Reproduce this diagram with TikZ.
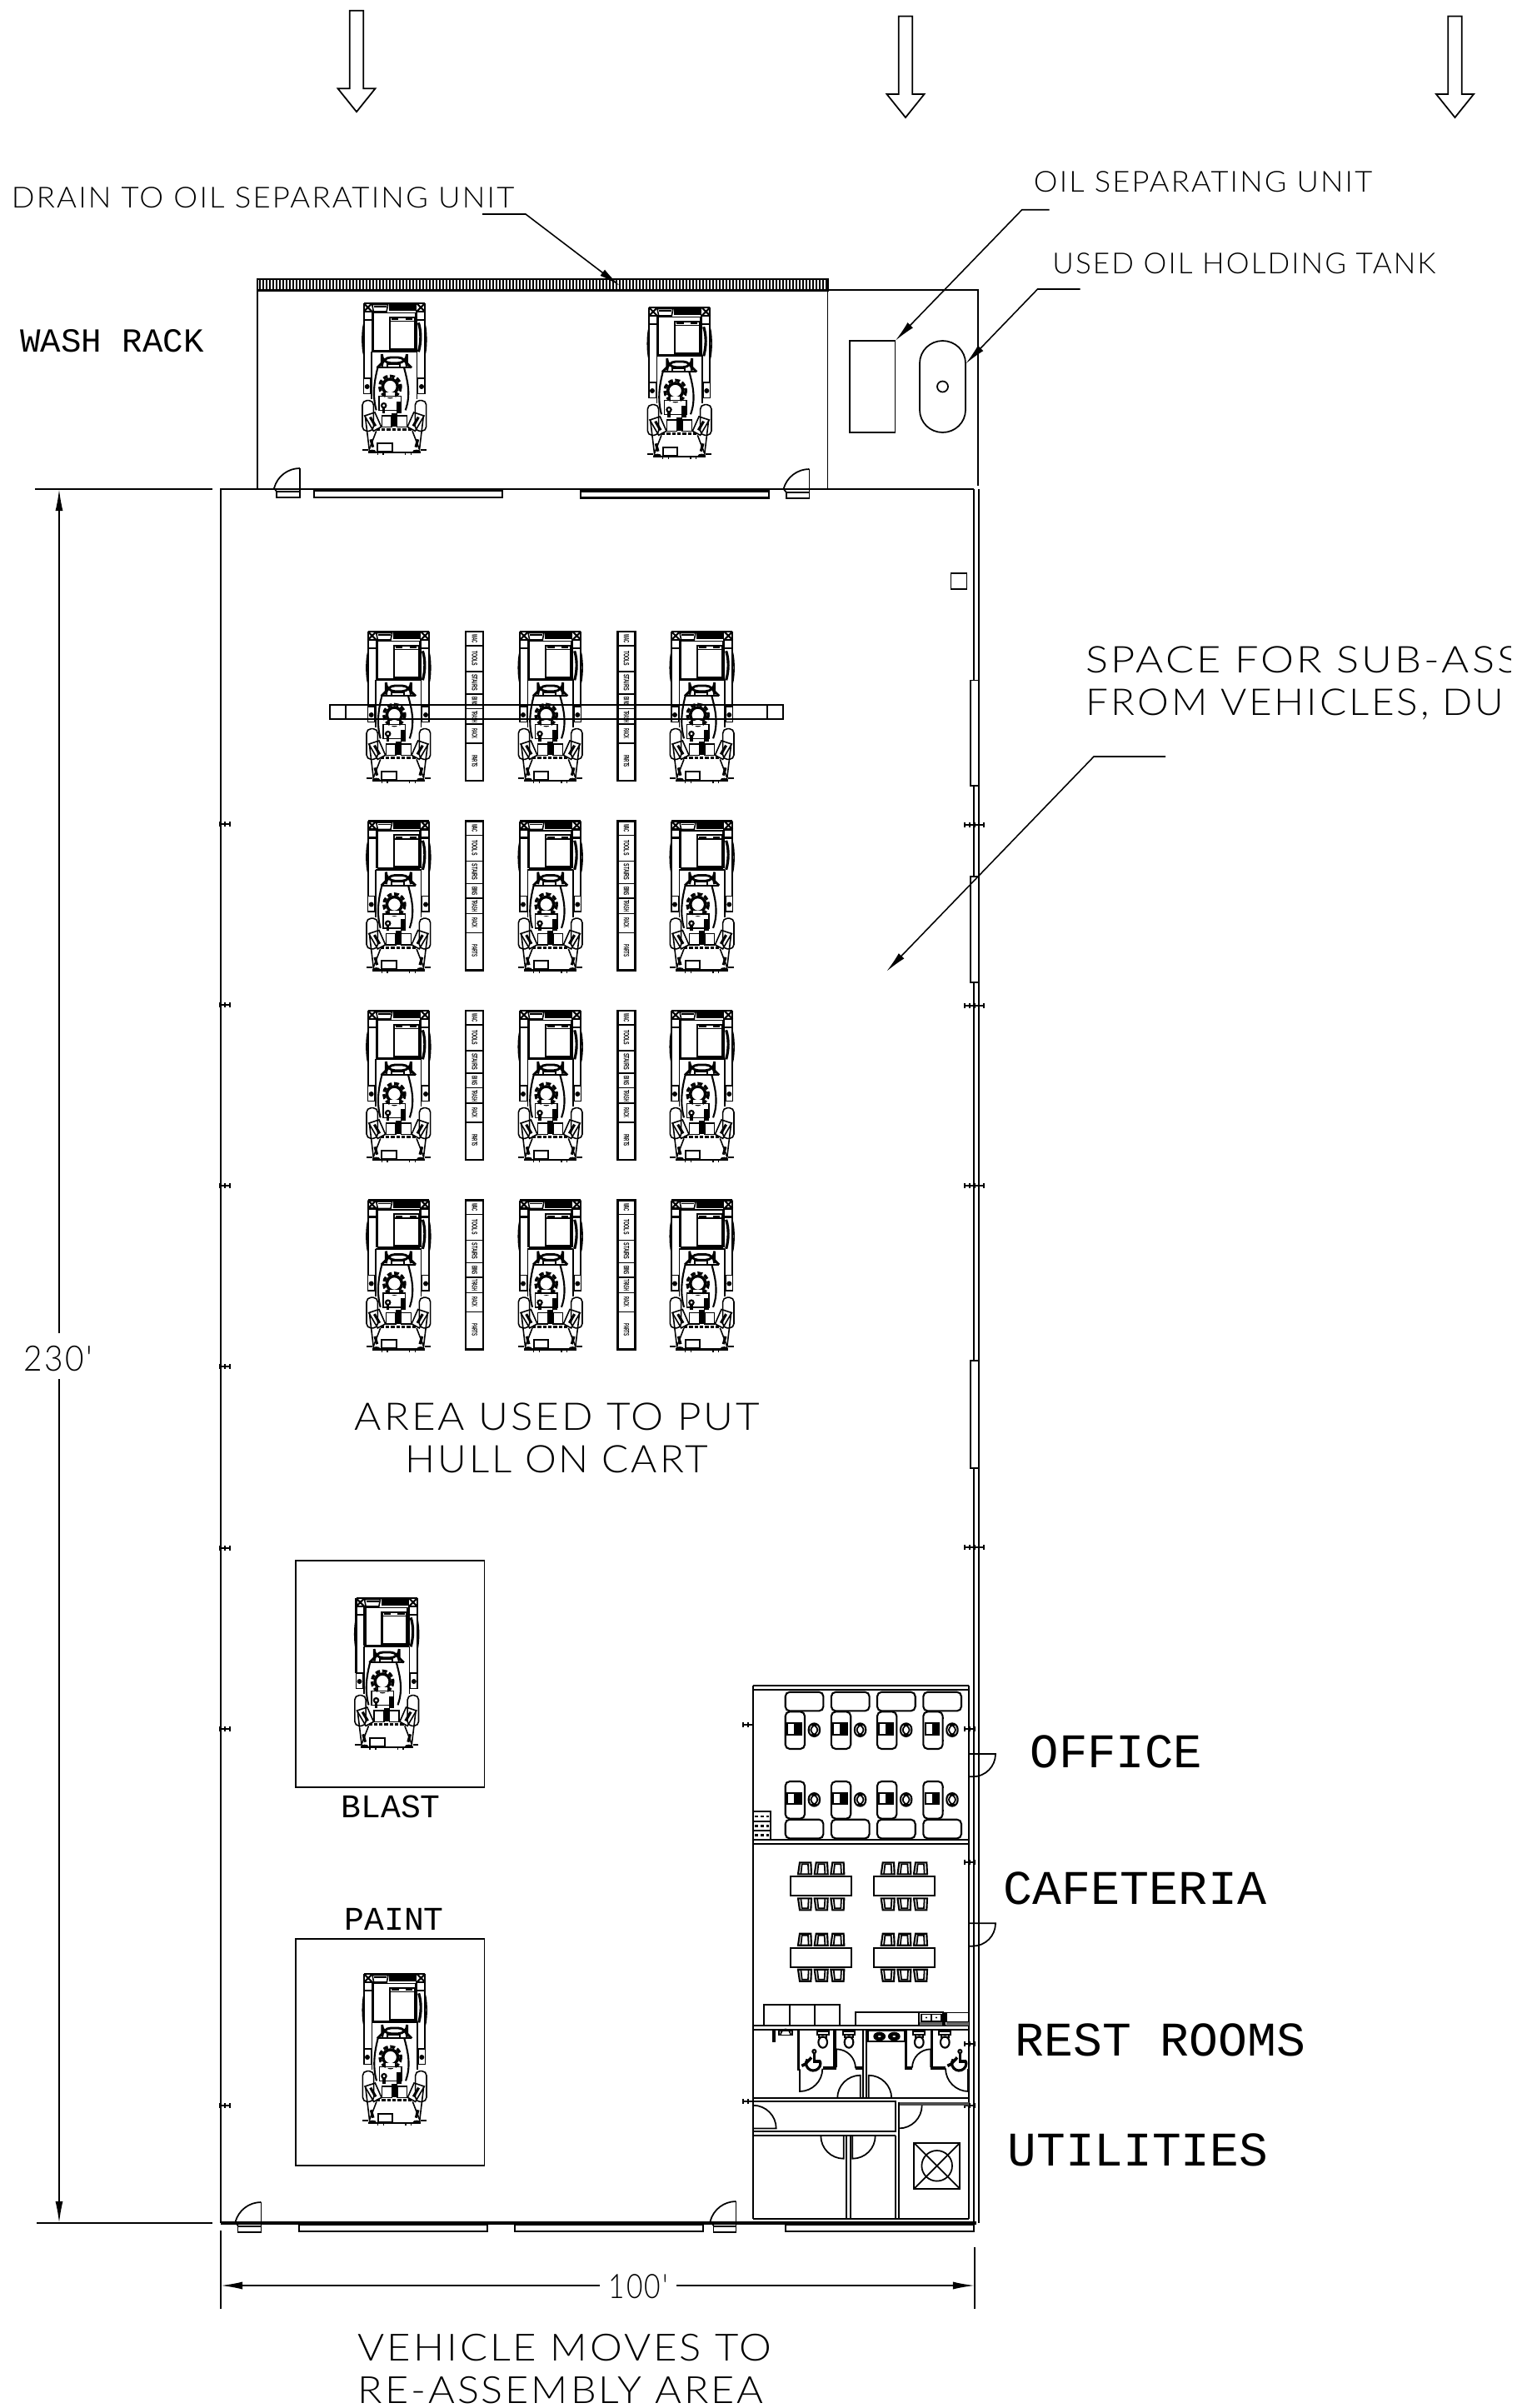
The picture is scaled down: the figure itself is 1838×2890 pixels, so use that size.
\documentclass[tikz,border=0pt]{standalone}
\usepackage{graphicx}
\usepackage{fontspec}
\setmainfont{Liberation Sans}
\newfontfamily\cadfont{Lato Light}[LetterSpace=6]
\newfontfamily\stampfont{Liberation Mono}
\usetikzlibrary{arrows.meta}

% width in cm, font size in pt, text
\newcommand{\cadtext}[3]{\resizebox{#1cm}{\height}{\fontsize{#2}{#2}\selectfont #3}}

% one half of the vehicle, mirrored for the other side
\newcommand{\vehside}{
  \draw ( 0, 75 ) .. controls ( -7, 100 ) and ( -7, 160 ) .. ( 0, 185 );
  \draw[thick] ( 0, 0 ) -- ( 0, 270 );
  \draw[thick] ( 0, 0 ) -- ( 30, 30 ) ( 0, 30 ) -- ( 30, 0 );
  \draw[thick] ( 0, 30 ) -- ( 30, 30 ) -- ( 30, 170 );
  \draw[thick] ( 0, 60 ) -- ( 30, 60 );
  \draw ( 28, 175 ) -- ( 28, 345 );
  \draw ( 0, 270 ) rectangle ( 25, 325 );
  \fill ( 12, 300 ) circle ( 9 );
  \draw[rounded corners=1.5pt] ( -5, 350 ) rectangle ( 35, 460 );
  \draw ( 3, 405 ) -- ( 40, 393 ) -- ( 63, 445 ) -- ( 35, 460 ) -- cycle;
  \draw[line width=0.9pt] ( 23, 410 ) -- ( 42, 442 );
  \draw ( 5, 405 ) -- ( 20, 530 );
  \draw ( 45, 460 ) -- ( 20, 525 );
  \draw[line width=0.9pt] ( 25, 490 ) -- ( 33, 518 );
  \draw[thick] ( -5, 527 ) -- ( 15, 527 );
  \fill ( 30, 533 ) ellipse ( 14 and 6 );
  \draw ( 50, 537 ) -- ( 50, 547 ) ( 70, 537 ) -- ( 70, 547 );
}

\tikzset{
  thick/.style={line width=0.6pt},
  wall/.style={line width=0.65pt},
  leader/.style={line width=0.45pt, -{Latex[length=0.26cm, width=0.09cm]}},
  plainline/.style={line width=0.45pt},
  note/.style={anchor=base west, inner sep=0pt, font=\cadfont},
  stamp/.style={anchor=base west, inner sep=0pt, font=\stampfont},
  vehicle/.pic={
    \begin{scope}[line width=0.45pt]
    \vehside
    \begin{scope}[shift={( 220, 0 )}, xscale=-1]
      \vehside
    \end{scope}
    \draw[thick] ( 0, 0 ) -- ( 220, 0 );
    \fill ( 90, 3 ) rectangle ( 190, 28 );
    \draw[fill=white] ( 30, 5 ) -- ( 87, 5 ) -- ( 82, 30 ) -- ( 35, 30 ) -- cycle;
    \draw ( 36, 12 ) -- ( 82, 12 );
    \draw ( 35, 35 ) rectangle ( 185, 170 );
    \draw[thick] ( 93, 50 ) rectangle ( 183, 165 );
    \draw ( 93, 65 ) -- ( 183, 65 );
    \draw[thick] ( 100, 58 ) -- ( 125, 58 ) ( 150, 58 ) -- ( 175, 58 );
    \draw[line width=0.9pt] ( 197, 70 ) .. controls ( 207, 100 ) and ( 207, 140 ) .. ( 197, 175 );
    \draw[thick] ( 28, 175 ) -- ( 192, 175 );
    % Hatch and beams
    \draw[line width=0.8pt, rounded corners=3pt] ( 65, 195 ) rectangle ( 155, 215 );
    \draw[line width=0.8pt] ( 48, 232 ) -- ( 65, 215 ) ( 172, 232 ) -- ( 155, 215 );
    \draw[thick] ( 48, 232 ) -- ( 172, 232 );
    \draw[fill=white, thick] ( 85, 218 ) rectangle ( 130, 232 );
    \draw[thick] ( 50, 232 ) .. controls ( 38, 280 ) and ( 30, 330 ) .. ( 45, 385 );
    \draw[thick] ( 145, 232 ) .. controls ( 158, 280 ) and ( 170, 330 ) .. ( 150, 385 );
    % Turret ring
    \draw[line width=1pt, dash pattern=on 1.6pt off 0.8pt] ( 95, 300 ) circle ( 38 );
    \draw[line width=1pt] ( 95, 300 ) circle ( 27 );
    \draw[fill=white, draw=none] ( 78, 322 ) rectangle ( 112, 340 );
    % Lower deck
    \draw ( 55, 335 ) rectangle ( 135, 385 );
    \draw[fill=black] ( 120, 355 ) rectangle ( 133, 393 );
    \draw[thick] ( 72, 368 ) circle ( 8 );
    \draw[line width=0.9pt] ( 72, 376 ) -- ( 72, 395 );
    \draw ( 65, 405 ) rectangle ( 100, 445 ) ( 120, 405 ) rectangle ( 155, 445 );
    \fill ( 100, 395 ) rectangle ( 120, 445 );
    \draw[line width=0.9pt, dash pattern=on 1.2pt off 0.6pt] ( 45, 455 ) -- ( 175, 455 );
    % Front
    \draw[thick] ( 15, 537 ) -- ( 205, 537 );
    \draw[thick] ( 50, 503 ) rectangle ( 103, 533 );
    \end{scope}
  },
  shelf/.pic={
    \draw[thick] ( 0, 0 ) rectangle ( 21, 179 );
    \foreach \sy in { 17, 48, 75, 92.5, 111, 134 } {
      \draw ( 0, \sy ) -- ( 21, \sy );
    }
    \foreach \sy/\swidth/\slabel in { 8.5/0.1/WAC, 32/0.18/TOOLS, 61/0.2/STAIRS, 84/0.11/BINS, 102/0.14/TRASH, 122/0.12/RACK, 156/0.16/PARTS } {
      \node[rotate=-90, inner sep=0pt] (\slabel) at ( 10.5, \sy ) {\cadtext{\swidth}{2.6}{\bfseries\slabel}};
    }
  },
  rollup/.pic={
    \draw[thick] ( 0, 0 ) rectangle ( 226, 8 );
  },
  coltick/.pic={
    \draw[line width=0.6pt] ( 0, 0 ) -- ( 12, 0 );
    \draw[line width=0.8pt] ( 0, -3 ) -- ++( 0, 6 ) ( 6, -3 ) -- ++( 0, 6 ) ( 12, -3 ) -- ++( 0, 6 );
  },
  desk/.pic={
    \draw[thick, rounded corners=1.5pt] ( 0, 0 ) rectangle ( 70, 134 );
    \draw ( 70, 22 ) -- ( 73, 22 ) ( 70, 105 ) -- ( 73, 105 );
    \draw[thick] ( 7, 42 ) rectangle ( 34, 82 );
    \fill ( 34, 38 ) rectangle ( 60, 85 );
    \draw[thick, rounded corners=2pt] ( 84, 42 ) rectangle ( 124, 89 );
    \draw[rounded corners=2pt, fill=white] ( 92, 47 ) rectangle ( 116, 84 );
  },
  chair/.pic={
    \draw[thick] ( -24, 0 ) -- ( -18, -42 ) -- ( 22, -42 ) -- ( 24, 0 ) -- cycle;
    \draw ( -14, 0 ) -- ( -10, -36 ) -- ( 12, -36 ) -- ( 14, 0 );
  },
  toilet/.pic={
    \draw[thick] ( -21, 0 ) rectangle ( 21, 12 );
    \draw ( -14, 12 ) rectangle ( 14, 20 );
    \draw[thick] ( 0, 38 ) ellipse ( 16 and 20 );
  },
  wheelchair/.pic={
    \draw[line width=0.9pt] ( 26, -10 ) arc[start angle=-20, end angle=215, radius=26];
    \draw[thick] ( 5, -44 ) circle ( 6 );
    \draw[line width=1pt] ( 5, -38 ) -- ( 5, -8 ) -- ( 28, -8 );
    \draw[line width=1pt] ( -5, -22 ) -- ( -28, 2 ) -- ( -40, 8 );
  },
  topdown/.pic={
    \draw[fill=white] ( -8.3, 0 ) -- ( -8.3, 93.5 ) -- ( -22.5, 93.5 ) -- ( 0, 121.5 ) -- ( 22.5, 93.5 ) -- ( 8.3, 93.5 ) -- ( 8.3, 0 ) -- cycle;
  }
}

\begin{document}
\begin{tikzpicture}[x=0.01cm, y=-0.01cm, line width=0.5pt]
\useasboundingbox ( 0, 0 ) rectangle ( 1838, 2890 );

% Arrows along the top
\pic at ( 428, 12.7 ) {topdown};
\pic at ( 1087, 19.5 ) {topdown};
\pic at ( 1746.5, 19.5 ) {topdown};

% Wash rack
\draw ( 309, 348 ) -- ( 309, 587 );
\draw ( 993.6, 348 ) -- ( 993.6, 587 );
\draw ( 993.6, 348 ) -- ( 1174, 348 ) -- ( 1174, 583 );
\draw[thick] ( 309, 334.7 ) rectangle ( 993.6, 348.5 );
\foreach \gx in { 312, 316, ..., 992 } {
  \draw[line width=0.35pt] ( \gx, 334.7 ) -- ++( 0, 13.8 );
}
\draw ( 1020, 409 ) rectangle ( 1074.5, 519 );
\draw ( 1104, 436 ) arc[start angle=180, end angle=360, x radius=27.5, y radius=27] -- ( 1159, 492 ) arc[start angle=0, end angle=180, x radius=27.5, y radius=27] -- cycle;
\draw ( 1131.5, 464 ) circle ( 6.5 );
\pic[scale=0.3333] at ( 436.7, 364 ) {vehicle};
\pic[scale=0.3333] at ( 779, 369 ) {vehicle};

% Wash rack doors
\draw ( 360, 562 ) arc[start angle=-90, end angle=-165, radius=32] -- ( 332, 590 );
\draw ( 360, 562 ) -- ( 360, 597 ) -- ( 332, 597 ) -- ( 332, 590 ) -- ( 360, 590 );
\pic at ( 377, 589 ) {rollup};
\pic at ( 697, 589.5 ) {rollup};
\draw ( 971.5, 563 ) arc[start angle=-90, end angle=-165, radius=32] -- ( 944, 591 );
\draw ( 971.5, 563 ) -- ( 971.5, 598 ) -- ( 944, 598 ) -- ( 944, 591 ) -- ( 971.5, 591 );

% Building
\draw[wall] ( 1169, 587 ) -- ( 265, 587 ) -- ( 265, 2668 );
\draw[line width=1pt] ( 265, 2668 ) -- ( 1172, 2668 );
\draw[plainline] ( 1169, 587 ) -- ( 1169, 2668 );
\draw[plainline] ( 1175, 587 ) -- ( 1175, 2668 );
\draw ( 1141.5, 688 ) rectangle ( 1160.5, 707 );

% Windows
\draw[fill=white] ( 1165, 816.5 ) rectangle ( 1174.6, 943 );
\draw[fill=white] ( 1165, 1052 ) rectangle ( 1174.6, 1179 );
\draw[fill=white] ( 1165, 1633 ) rectangle ( 1174.6, 1762 );

% Columns
\foreach \cy in { 989, 1206, 1423, 1640, 1858, 2075, 2527 } {
  \pic at ( 264, \cy ) {coltick};
}
\foreach \cy in { 990, 1207, 1423, 1857 } {
  \pic at ( 1158, \cy ) {coltick};
  \pic at ( 1169, \cy ) {coltick};
}
\foreach \cy in { 2075, 2235, 2453, 2527 } {
  \pic at ( 1158, \cy ) {coltick};
}
\pic at ( 892, 2070 ) {coltick};
\pic at ( 892, 2522 ) {coltick};

% Assembly rows
\foreach \vy in { 758, 985.5, 1213, 1440.5 } {
  \foreach \vx in { 441.7, 624, 806 } {
    \pic[scale=0.3333] at ( \vx, \vy ) {vehicle};
  }
  \pic at ( 559.3, \vy ) {shelf};
  \pic at ( 741.5, \vy ) {shelf};
}
\draw ( 396, 845.7 ) rectangle ( 940, 863.3 );
\draw ( 415, 845.7 ) -- ++( 0, 17.6 );
\draw ( 921, 845.7 ) -- ++( 0, 17.6 );

% Blast and paint
\draw ( 354.7, 1873 ) rectangle ( 581.5, 2145 );
\draw ( 354.7, 2327 ) rectangle ( 581.5, 2599 );
\pic[scale=0.3333] at ( 427.5, 1918 ) {vehicle};
\pic[scale=0.3333] at ( 437, 2369 ) {vehicle};

% Office block
\draw ( 904, 2023.3 ) -- ( 1163.3, 2023.3 );
\draw ( 904, 2028 ) -- ( 1163.3, 2028 );
\draw ( 904, 2023.3 ) -- ( 904, 2662.7 );
\draw ( 1163.3, 2023.3 ) -- ( 1163.3, 2662.7 );
\draw ( 904, 2662.7 ) -- ( 1163.3, 2662.7 );
\draw ( 904, 2208.3 ) -- ( 1163.3, 2208.3 );
\draw ( 904, 2213.3 ) -- ( 1163.3, 2213.3 );
\draw ( 904, 2430.7 ) -- ( 1163.3, 2430.7 );
\draw ( 904, 2436 ) -- ( 1163.3, 2436 );

% Office desks
\foreach \dx in { 942.7, 997.9, 1053, 1108.3 } {
  \pic[scale=0.3333] at ( \dx, 2054.3 ) {desk};
  \pic[scale=0.3333] at ( \dx, 2138 ) {desk};
  \draw[thick, rounded corners=1.5pt] ( \dx, 2030.7 ) rectangle ++( 45.7, 22.7 );
  \draw[thick, rounded corners=1.5pt] ( \dx, 2183.7 ) rectangle ++( 45.7, 22.7 );
}
\draw ( 904, 2174 ) -- ( 924.7, 2174 ) -- ( 924.7, 2208.3 );
\foreach \sy in { 2186, 2197 } {
  \draw ( 904, \sy ) -- ( 924.7, \sy );
}
\foreach \sy in { 2180, 2191.5, 2202.5 } {
  \draw[line width=0.8pt, dash pattern=on 1.2pt off 0.8pt] ( 906, \sy ) -- ( 923, \sy );
}

% Office and cafeteria doors
\draw ( 1163.3, 2105 ) -- ( 1195, 2105 ) arc[start angle=0, end angle=90, radius=27.3] -- ( 1163.3, 2132.3 );
\draw ( 1163.3, 2308.3 ) -- ( 1195, 2308.3 ) arc[start angle=0, end angle=90, radius=27.3] -- ( 1163.3, 2335.6 );

% Cafeteria tables
\foreach \tx in { 949, 1048.7 } {
  \foreach \ty in { 2252.3, 2337.7 } {
    \draw[thick] ( \tx, \ty ) rectangle ++( 73, 23 );
    \foreach \cx in { 17, 36.7, 56.3 } {
      \pic[scale=0.3333] at ( \tx + \cx, \ty - 3 ) {chair};
      \pic[scale=0.3333, yscale=-1] at ( \tx + \cx, \ty + 26 ) {chair};
    }
  }
}

% Kitchen counter
\draw ( 917.3, 2430.7 ) -- ( 917.3, 2406 ) -- ( 1008.3, 2406 ) -- ( 1008.3, 2430.7 );
\draw ( 947.7, 2406 ) -- ++( 0, 24.7 );
\draw ( 978, 2406 ) -- ++( 0, 24.7 );
\draw ( 1026.7, 2430.7 ) -- ( 1026.7, 2415 ) -- ( 1131.7, 2415 ) -- ( 1131.7, 2430.7 );
\draw ( 1103.3, 2415 ) -- ++( 0, 15.7 );
\draw ( 1106, 2417.5 ) rectangle ( 1118, 2426 );
\draw ( 1118.5, 2417.5 ) rectangle ( 1130, 2426 );
\fill ( 1112, 2421.5 ) circle ( 1.2 ) ( 1124, 2421.5 ) circle ( 1.2 );
\fill[black!60] ( 1104, 2426.5 ) rectangle ( 1131, 2430.7 );
\draw ( 1134, 2415 ) -- ++( 0, 15.7 );
\draw ( 1136, 2415.5 ) rectangle ( 1162.7, 2426.5 );
\fill[black!60] ( 1136, 2426.5 ) rectangle ( 1162.7, 2430.7 );

% Rest rooms
\draw ( 1035.7, 2436 ) -- ( 1035.7, 2517.7 );
\draw ( 1039.7, 2436 ) -- ( 1039.7, 2517.7 );
\draw ( 904, 2517.7 ) -- ( 1163.3, 2517.7 );
\draw ( 904, 2522.3 ) -- ( 1075, 2522.3 ) -- ( 1075, 2558.3 ) -- ( 904, 2558.3 );
\fill[black!70] ( 1079, 2522.7 ) rectangle ( 1163.3, 2526.7 );
\draw[line width=1pt] ( 929, 2437.3 ) -- ( 929, 2450.7 );
\draw ( 935, 2437.3 ) -- ( 951, 2437.3 ) -- ( 951, 2442.5 ) -- ( 935, 2442.5 ) -- cycle;
\draw ( 937, 2442.5 ) arc[start angle=180, end angle=0, x radius=6, y radius=-7];
\draw[line width=1pt] ( 958.3, 2437.3 ) -- ( 958.3, 2483.3 ) -- ( 957, 2483.3 );
\draw[line width=1pt] ( 1002, 2437.3 ) -- ( 1002, 2482 ) -- ( 988.3, 2482 );
\draw[line width=1pt] ( 1026.7, 2482 ) -- ( 1035.7, 2482 );
\draw[line width=1pt] ( 1087.3, 2437.3 ) -- ( 1087.3, 2482 ) -- ( 1095, 2482 );
\draw[line width=1pt] ( 1118.5, 2437.3 ) -- ( 1118.5, 2482 ) -- ( 1135, 2482 );
\draw[line width=1pt] ( 1162.5, 2483 ) -- ( 1162.5, 2510 );
\foreach \wx in { 987.7, 1019, 1103.3, 1134.3 } {
  \pic[scale=0.3333] at ( \wx, 2438.3 ) {toilet};
}
\pic[scale=0.3333] at ( 975.7, 2476.7 ) {wheelchair};
\pic[scale=0.3333] at ( 1150.7, 2476.7 ) {wheelchair};
\draw[thick] ( 1042.3, 2437.3 ) rectangle ( 1085.7, 2450 );
\foreach \wx in { 1055.7, 1073.3 } {
  \draw[fill=black] ( \wx, 2444 ) ellipse ( 6.5 and 4.5 );
  \draw[fill=white] ( \wx, 2444 ) ellipse ( 3 and 2 );
}

% Rest room doors
\draw ( 960, 2483.3 ) -- ( 960, 2510 ) arc[start angle=90, end angle=0, radius=27.3];
\draw ( 1004, 2481 ) -- ( 1004, 2459.3 ) arc[start angle=-90, end angle=0, radius=23];
\draw ( 1117.3, 2481 ) -- ( 1117.3, 2459.3 ) arc[start angle=-90, end angle=-180, radius=22.3];
\draw ( 1162.7, 2510 ) arc[start angle=90, end angle=180, radius=27.7];
\draw ( 1032.7, 2517.7 ) -- ( 1032.7, 2490.7 ) arc[start angle=-90, end angle=-180, radius=27.5];
\draw ( 1042.7, 2517.7 ) -- ( 1042.7, 2490.7 ) arc[start angle=-90, end angle=0, radius=27.5];

% Utilities
\draw ( 904, 2526.7 ) arc[start angle=-90, end angle=0, radius=27.7] -- ( 904, 2554.4 );
\draw ( 904, 2563.3 ) -- ( 1075, 2563.3 );
\draw ( 1016, 2563.3 ) -- ( 1016, 2662.7 );
\draw ( 1020.7, 2563.3 ) -- ( 1020.7, 2662.7 );
\draw ( 1075, 2563.3 ) -- ( 1075, 2662.7 );
\draw ( 1079, 2522.7 ) -- ( 1079, 2662.7 );
\draw ( 1012.7, 2563.3 ) -- ( 1012.7, 2590.7 ) arc[start angle=90, end angle=180, radius=27.4];
\draw ( 1023.3, 2563.3 ) -- ( 1023.3, 2590.7 ) arc[start angle=90, end angle=0, radius=27.4];
\draw ( 1106.7, 2526.7 ) arc[start angle=0, end angle=90, radius=27.7];
\draw[thick] ( 1097.3, 2572 ) rectangle ( 1152, 2626.7 );
\draw ( 1097.3, 2572 ) -- ( 1152, 2626.7 ) ( 1097.3, 2626.7 ) -- ( 1152, 2572 );
\draw ( 1124.7, 2599.3 ) circle ( 18.3 );

% Bottom doors
\draw ( 313.4, 2643 ) arc[start angle=-90, end angle=-165, radius=32] -- ( 285.5, 2671 );
\draw ( 313.4, 2643 ) -- ( 313.4, 2678.7 ) -- ( 285.5, 2678.7 ) -- ( 285.5, 2671.7 ) -- ( 313.4, 2671.7 );
\pic at ( 359, 2670 ) {rollup};
\pic at ( 618, 2670 ) {rollup};
\draw ( 883.5, 2642 ) arc[start angle=-90, end angle=-165, radius=32] -- ( 856.5, 2671 );
\draw ( 883.5, 2642 ) -- ( 883.5, 2678.7 ) -- ( 856.5, 2678.7 ) -- ( 856.5, 2671.7 ) -- ( 883.5, 2671.7 );
\pic at ( 943, 2670 ) {rollup};

% Dimensions
\draw[wall] ( 42, 587 ) -- ( 255, 587 );
\draw[wall] ( 44, 2668 ) -- ( 255, 2668 );
\draw[leader] ( 71, 1600 ) -- ( 71, 587 );
\draw[leader] ( 71, 1655 ) -- ( 71, 2668 );
\draw[plainline] ( 265, 2677 ) -- ( 265, 2771 );
\draw[plainline] ( 1170, 2697 ) -- ( 1170, 2771 );
\draw[leader] ( 720, 2743 ) -- ( 265, 2743 );
\draw[leader] ( 812, 2743 ) -- ( 1170, 2743 );
\node[note] (heightlabel) at ( 28, 1645 ) {\cadtext{0.82}{12}{230'}};
\node[note] (widthlabel) at ( 730, 2758 ) {\cadtext{0.71}{11.5}{100'}};

% Leaders
\draw[leader] ( 579, 257 ) -- ( 631, 257 ) -- ( 744, 343 );
\draw[leader] ( 1259.6, 251.7 ) -- ( 1226.8, 251.7 ) -- ( 1074.6, 409 );
\draw[leader] ( 1296.5, 347 ) -- ( 1245.5, 347 ) -- ( 1159, 436.7 );
\draw[leader] ( 1399, 908 ) -- ( 1313, 908 ) -- ( 1064, 1166 );

% Notes
\node[note] (drainlabel) at ( 13, 249 ) {\cadtext{6.03}{9.9}{DRAIN TO OIL SEPARATING UNIT}};
\node[note] (seplabel) at ( 1240, 230.7 ) {\cadtext{4.06}{9.9}{OIL SEPARATING UNIT}};
\node[note] (tanklabel) at ( 1262.5, 328 ) {\cadtext{4.6}{9.9}{USED OIL HOLDING TANK}};
\begin{scope}
  \clip ( 1290, 760 ) rectangle ( 1813, 880 );
  \node[note] (spacelabel) at ( 1303, 807.5 ) {\cadtext{5.2}{12.6}{SPACE FOR SUB-ASS}};
  \node[note] (fromlabel) at ( 1303, 858 ) {\cadtext{5.01}{12.6}{FROM VEHICLES, DU}};
\end{scope}
\node[note] (arealabel) at ( 425, 1716.7 ) {\cadtext{4.86}{13}{AREA USED TO PUT}};
\node[note] (hulllabel) at ( 486, 1767.5 ) {\cadtext{3.63}{13}{HULL ON CART}};
\node[note] (moveslabel) at ( 429, 2833 ) {\cadtext{4.96}{12.8}{VEHICLE MOVES TO}};
\node[note] (assemblylabel) at ( 429, 2884 ) {\cadtext{4.865}{12.8}{RE-ASSEMBLY AREA}};

% Room names
\node[stamp] (washlabel) at ( 23.5, 422 ) {\cadtext{2.2}{11.5}{WASH RACK}};
\node[stamp] (blastlabel) at ( 408.7, 2181 ) {\cadtext{1.19}{11.3}{BLAST}};
\node[stamp] (paintlabel) at ( 412.8, 2316 ) {\cadtext{1.19}{11.3}{PAINT}};
\node[stamp] (officelabel) at ( 1236, 2121 ) {\cadtext{2.06}{16.5}{OFFICE}};
\node[stamp] (cafelabel) at ( 1204, 2285 ) {\cadtext{3.15}{16.5}{CAFETERIA}};
\node[stamp] (restlabel) at ( 1218, 2467 ) {\cadtext{3.48}{16.5}{REST ROOMS}};
\node[stamp] (utillabel) at ( 1209, 2599 ) {\cadtext{3.12}{16.5}{UTILITIES}};

\end{tikzpicture}
\end{document}
